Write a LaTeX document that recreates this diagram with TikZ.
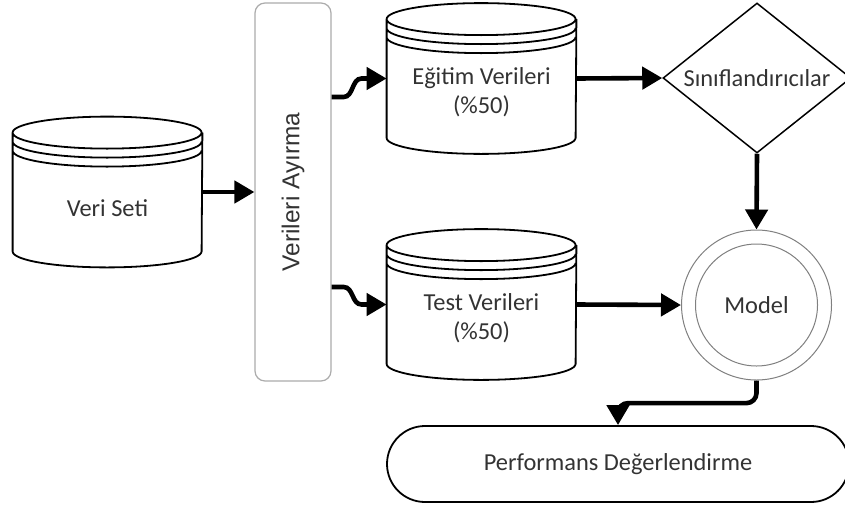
\documentclass[tikz,border=0pt]{standalone}
\usepackage{fontspec}
\setmainfont{Carlito}
\newfontfamily\arialfont{Liberation Sans}
\usetikzlibrary{arrows.meta,shapes.geometric,calc}
\newcommand\dbdraw[1]{%
  \draw[dbline] let \p1=(#1.north west), \p2=(#1.south east) in
    ({\x1+47.25pt},{\y1-8pt}) ellipse [x radius=47.25pt, y radius=8pt]
    ({\x1},{\y1-12.5pt}) arc [start angle=180, end angle=360, x radius=47.25pt, y radius=8pt]
    ({\x1},{\y1-17pt}) arc [start angle=180, end angle=360, x radius=47.25pt, y radius=8pt]
    ({\x1},{\y1-8pt}) -- ({\x1},{\y2+8pt}) arc [start angle=180, end angle=360, x radius=47.25pt, y radius=8pt] -- ({\x2},{\y1-8pt});
}
\begin{document}
\begin{tikzpicture}[x=0.5pt,y=0.5pt,
  txt/.style={font=\fontsize{12.2}{14.5}\selectfont, text=black!80},
  dbbox/.style={draw=none, minimum width=94.5pt, minimum height=75pt, inner sep=0pt},
  dbline/.style={draw=black, line width=0.9pt},
  flow/.style={draw=black, line width=2.3pt, -{Triangle[length=10pt,width=11pt]}},
  splitbox/.style={draw=gray!65, line width=0.6pt, rounded corners=5pt, minimum width=38pt, minimum height=189pt, inner sep=0pt, txt},
  decbox/.style={diamond, draw=black, line width=0.75pt, minimum width=94pt, minimum height=75pt, inner sep=0pt, aspect=1.25, txt},
  modelbox/.style={circle, draw=gray, line width=0.5pt, minimum size=75pt, inner sep=0pt, txt},
  perfbox/.style={draw=black, line width=0.9pt, rounded corners=19pt, minimum width=231pt, minimum height=38pt, txt}]
\useasboundingbox (0,0) rectangle (845,-504);
\fill[white] (0,0) rectangle (845,-504);

\node[dbbox, label={[txt, yshift=-8pt]center:Veri Seti}] (vs) at (107.5,-192) {};
\node[dbbox, label={[txt, yshift=-7pt, align=center]center:{Eğitim Verileri\\(\%50)}}] (egt) at (481.5,-78.5) {};
\node[dbbox, label={[txt, yshift=-7pt, align=center]center:{Test Verileri\\(\%50)}}] (tst) at (481.5,-304.5) {};
\dbdraw{vs}
\dbdraw{egt}
\dbdraw{tst}

\node[splitbox] (split) at (293,-192) {\rotatebox{90}{\arialfont Verileri Ayırma}};
\node[decbox] (cls) at (757,-78) {Sınıflandırıcılar};
\node[modelbox] (model) at (756.5,-305) {Model};
\draw[gray, line width=0.5pt] (model.center) circle[radius=30.5pt];
\node[perfbox] (perf) at (618,-464) {Performans Değerlendirme};

\draw[flow] (vs.east) -- (split.west);
\draw[flow] ([yshift=47.5pt]split.east) -- ++(6pt,0) .. controls +(5pt,0) and +(-5pt,0) .. ++(9pt,9.25pt) -- (egt.west);
\draw[flow] ([yshift=-47.5pt]split.east) -- ++(6pt,0) .. controls +(5pt,0) and +(-5pt,0) .. ++(9pt,-8.75pt) -- (tst.west);
\draw[flow] (egt.east) -- (cls.west);
\draw[flow] (cls.south) -- (model.north);
\draw[flow] (tst.east) -- (model.west);
\draw[flow] (model.south) [rounded corners=5pt] -- ([yshift=11pt]model.south |- perf.north) -- ([yshift=11pt]perf.north) [sharp corners] -- (perf.north);
\end{tikzpicture}
\end{document}
